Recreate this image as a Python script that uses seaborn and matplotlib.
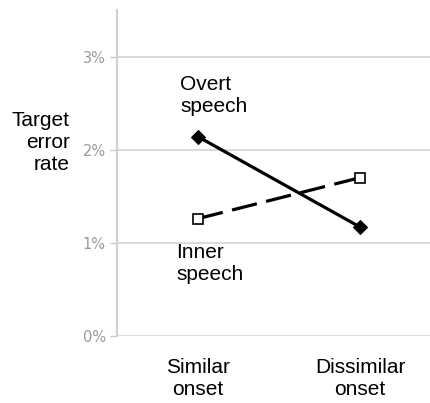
import matplotlib
matplotlib.use("Agg")
import matplotlib.pyplot as plt
import seaborn as sns
import pandas as pd
from matplotlib.ticker import FuncFormatter

categories = ["Similar\nonset", "Dissimilar\nonset"]
overt = [2.14, 1.17]
inner = [1.26, 1.70]
yticks = [0, 1, 2, 3]

sns.set_theme(style="white")
plt.rcParams["font.family"] = ["Liberation Sans", "DejaVu Sans"]
plt.rcParams["text.color"] = "black"

df = pd.DataFrame({
    "pos": list(range(len(categories))) * 2,
    "rate": overt + inner,
    "series": ["Overt speech"] * len(overt) + ["Inner speech"] * len(inner),
})

W, H = 431, 403
fig = plt.figure(figsize=(W / 100, H / 100), dpi=100)
ax = fig.add_axes([117 / W, (H - 336) / H, 324 / W, 326 / H])

sns.lineplot(data=df[df.series == "Overt speech"], x="pos", y="rate", ax=ax,
             color="black", lw=2.3, marker="D", markersize=7,
             markerfacecolor="black", markeredgecolor="black", legend=False)
sns.lineplot(data=df[df.series == "Inner speech"], x="pos", y="rate", ax=ax,
             color="black", lw=2.3, marker="s", markersize=7.5,
             markerfacecolor="white", markeredgecolor="black", markeredgewidth=1.2,
             dashes=False, legend=False)
ax.lines[-1].set_dashes((8, 3))

ax.set_xlim(-0.5, 1.5)
ax.set_ylim(0, 3.5)
ax.set_yticks(yticks)
ax.yaxis.set_major_formatter(FuncFormatter(lambda v, p: f"{v:.0f}%"))
ax.set_xticks(range(len(categories)))
ax.set_xticklabels(categories, fontsize=15, color="black", linespacing=1.2)
ax.tick_params(axis="x", length=0, pad=16)
ax.tick_params(axis="y", length=5, width=1, color="#c8c8c8", labelsize=10.5,
               labelcolor="#9a9a9a", pad=3, left=True)
for t in ax.get_yticklabels():
    t.set_family(["DejaVu Sans"])
ax.set_xlabel("")
ax.set_ylabel("")
ax.grid(axis="y", color="#d4d4d4", lw=1.2)
ax.set_axisbelow(True)
for s in ["top", "right", "bottom"]:
    ax.spines[s].set_visible(False)
ax.spines["left"].set_color("#d0d0d0")
ax.spines["left"].set_linewidth(1.5)

fig.text(70 / W, 1 - 142 / H, "Target\nerror\nrate", ha="right", va="center",
         multialignment="right", fontsize=15, linespacing=1.2)
fig.text(180 / W, 1 - 75 / H, "Overt\nspeech", ha="left", va="top",
         fontsize=15, linespacing=1.2)
fig.text(176 / W, 1 - 243 / H, "Inner\nspeech", ha="left", va="top",
         fontsize=15, linespacing=1.2)

fig.savefig("out.png", dpi=100)
